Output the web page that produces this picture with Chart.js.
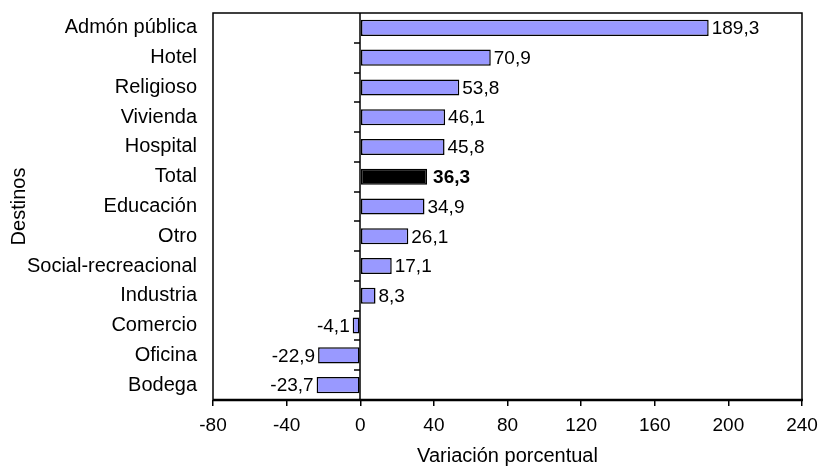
<!DOCTYPE html>
<html>
<head>
<meta charset="utf-8">
<script src="https://cdn.jsdelivr.net/npm/chart.js@4"></script>
<style>
  html, body { margin: 0; padding: 0; background: #fff; }
  #wrap { width: 820px; height: 468px; }
</style>
</head>
<body>
<div id="wrap"><canvas id="chart" width="820" height="468"></canvas></div>
<script>
// Variación porcentual por destino
const destinos = ['Admón pública', 'Hotel', 'Religioso', 'Vivienda', 'Hospital', 'Total',
                  'Educación', 'Otro', 'Social-recreacional', 'Industria', 'Comercio', 'Oficina', 'Bodega'];
const variacion = [189.3, 70.9, 53.8, 46.1, 45.8, 36.3, 34.9, 26.1, 17.1, 8.3, -4.1, -22.9, -23.7];
const xTicks = [-80, -40, 0, 40, 80, 120, 160, 200, 240];

const FONT = 'Liberation Sans, Arial, sans-serif';
const FS = 19;     // ticks and value labels
const FS_CAT = 20; // category labels and axis titles
const fmt = v => v.toFixed(1).replace('.', ',');

// bar colours: Total drawn in black
const barColors = destinos.map(d => d === 'Total' ? '#000000' : '#9999ff');

// ── Frame, zero axis and value labels ──
const decorations = {
    id: 'decorations',
    afterDatasetsDraw(chart) {
        const { ctx, chartArea: a, scales: { x, y } } = chart;
        const x0 = Math.round(x.getPixelForValue(0));
        ctx.save();
        // box around plot area
        ctx.strokeStyle = '#000';
        ctx.lineWidth = 1.5;
        ctx.strokeRect(Math.round(a.left), Math.round(a.top),
                       Math.round(a.right - a.left), Math.round(a.bottom - a.top));
        // bottom axis a bit heavier
        ctx.lineWidth = 2.5;
        ctx.beginPath();
        ctx.moveTo(a.left, Math.round(a.bottom));
        ctx.lineTo(a.right + 1, Math.round(a.bottom));
        ctx.stroke();
        // zero axis with category tick marks
        ctx.lineWidth = 1.5;
        ctx.beginPath();
        ctx.moveTo(x0, a.top);
        ctx.lineTo(x0, a.bottom);
        const step = (a.bottom - a.top) / destinos.length;
        for (let i = 1; i < destinos.length; i++) {
            const yy = Math.round(a.top + step * i);
            ctx.moveTo(x0 - 6, yy);
            ctx.lineTo(x0, yy);
        }
        ctx.stroke();
        // value labels
        const meta = chart.getDatasetMeta(0);
        ctx.fillStyle = '#000';
        ctx.textBaseline = 'middle';
        meta.data.forEach((bar, i) => {
            const v = variacion[i];
            const bold = destinos[i] === 'Total';
            ctx.font = (bold ? 'bold ' : '') + FS + 'px ' + FONT;
            if (v >= 0) {
                ctx.textAlign = 'left';
                ctx.fillText(fmt(v), bar.x + (bold ? 6 : 3), bar.y + 1);
            } else {
                ctx.textAlign = 'right';
                ctx.fillText(fmt(v), bar.x - 3, bar.y + 1);
            }
        });
        ctx.restore();
    }
};

new Chart(document.getElementById('chart').getContext('2d'), {
    type: 'bar',
    data: {
        labels: destinos,
        datasets: [{
            data: variacion,
            backgroundColor: barColors,
            borderColor: '#000',
            borderWidth: 1.5,
            borderSkipped: false,
            barPercentage: 0.54,
            categoryPercentage: 1
        }]
    },
    options: {
        indexAxis: 'y',
        responsive: false,
        animation: false,
        layout: { padding: { top: 13, right: 18, left: 0, bottom: 0 } },
        plugins: { legend: { display: false }, tooltip: { enabled: false } },
        scales: {
            x: {
                min: xTicks[0],
                max: xTicks[xTicks.length - 1],
                afterBuildTicks: s => { s.ticks = xTicks.map(v => ({ value: v })); },
                afterFit: s => { s.height = 68; s.paddingLeft = 0; s.paddingRight = 0; },
                grid: { drawOnChartArea: false, color: '#000', lineWidth: 1.5, tickLength: 6 },
                border: { display: false },
                ticks: { color: '#000', font: { family: FONT, size: FS }, padding: 8, maxRotation: 0 },
                title: {
                    display: true, text: 'Variación porcentual', color: '#000',
                    font: { family: FONT, size: FS_CAT }, padding: { top: 1, bottom: 0 }
                }
            },
            y: {
                afterFit: s => { s.width = 213; s.paddingTop = 0; s.paddingBottom = 0; },
                grid: { display: false, drawTicks: false },
                border: { display: false },
                ticks: { color: '#000', font: { family: FONT, size: FS_CAT }, padding: 16, autoSkip: false },
                title: {
                    display: true, text: 'Destinos', color: '#000',
                    font: { family: FONT, size: FS_CAT }, padding: { top: 7, bottom: 0 }
                }
            }
        }
    },
    plugins: [decorations]
});
</script>
</body>
</html>
